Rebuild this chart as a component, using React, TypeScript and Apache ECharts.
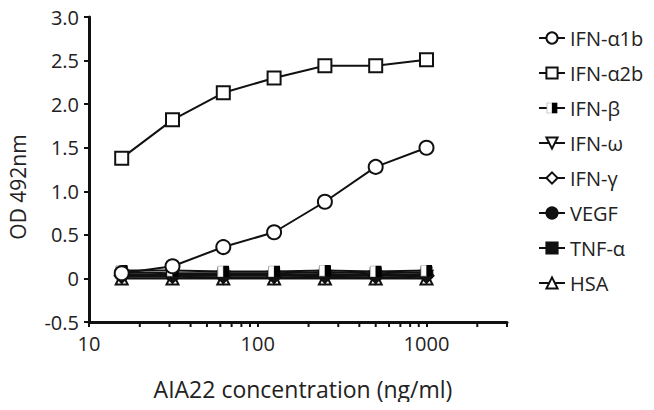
import React, { useEffect, useRef } from "react";
import * as echarts from "echarts";

const concentrations = [15.625, 31.25, 62.5, 125, 250, 500, 1000];
const ifnA1b = [0.06, 0.14, 0.36, 0.53, 0.88, 1.28, 1.5];
const ifnA2b = [1.38, 1.82, 2.13, 2.3, 2.44, 2.44, 2.51];
const ifnB = [0.09, 0.09, 0.08, 0.08, 0.09, 0.08, 0.09];
const ifnW = [0.02, 0.02, 0.01, 0.01, 0.02, 0.01, 0.02];
const ifnG = [0.03, 0.03, 0.03, 0.03, 0.03, 0.03, 0.03];
const vegf = [0.05, 0.04, 0.04, 0.04, 0.05, 0.04, 0.05];
const tnfA = [0.07, 0.06, 0.06, 0.06, 0.07, 0.06, 0.07];
const hsa = [0.0, 0.0, 0.0, 0.0, 0.0, 0.0, 0.0];
const minorTicks = [20, 30, 40, 50, 60, 70, 80, 90, 200, 300, 400, 500, 600, 700, 800, 900, 2000];
const xLabels = [10, 100, 1000];

const halfSquareSvg =
  "<svg xmlns='http://www.w3.org/2000/svg' width='24' height='24'><rect x='1' y='1' width='11' height='22' fill='white' stroke='#b0b0b0' stroke-width='2'/><rect x='12' y='0' width='12' height='24' fill='black'/></svg>";
const halfSquare = "image://data:image/svg+xml;charset=utf-8," + encodeURIComponent(halfSquareSvg);

const FONT = "Open Sans";

export default function App() {
  const ref = useRef<HTMLDivElement>(null);
  useEffect(() => {
    if (!ref.current) return;
    const chart = echarts.init(ref.current, undefined, { renderer: "svg" });
    const mk = (name: string, vals: number[], symbol: string, size: number, filled: boolean, z: number) => ({
      name,
      type: "line",
      data: concentrations.map((c, i) => [c, vals[i]]),
      symbol,
      symbolSize: size,
      showAllSymbol: true,
      z,
      lineStyle: { color: "#111", width: 2 },
      itemStyle: { color: filled ? "#111" : "#fff", borderColor: "#111", borderWidth: 2 },
    });
    chart.setOption({
      animation: false,
      backgroundColor: "#fff",
      grid: { left: 89, right: 147, top: 17, bottom: 88 },
      graphic: [
        {
          type: "rect",
          shape: { x: 1, y: 1, width: 651, height: 407 },
          style: { fill: "none", stroke: "#a0a0a0", lineWidth: 2 },
          silent: true,
        },
        {
          type: "text",
          x: 18,
          y: 187,
          rotation: Math.PI / 2,
          style: {
            text: "OD 492nm",
            font: `21px '${FONT}'`,
            fill: "#222",
            textAlign: "center",
            textVerticalAlign: "middle",
          },
        },
      ],
      legend: {
        orient: "vertical",
        left: 533,
        top: 22,
        itemWidth: 26,
        itemHeight: 14,
        itemGap: 13,
        textStyle: { fontFamily: FONT, fontSize: 20, lineHeight: 22, color: "#222" },
        data: ["IFN-α1b", "IFN-α2b", "IFN-β", "IFN-ω", "IFN-γ", "VEGF", "TNF-α", "HSA"],
      },
      xAxis: {
        type: "log",
        logBase: 10,
        min: 10,
        max: 3000,
        name: "AIA22 concentration (ng/ml)",
        nameLocation: "middle",
        nameGap: 55,
        nameTextStyle: { fontFamily: FONT, fontSize: 23, color: "#222", padding: [0, 0, 0, 10] },
        axisLine: { show: true, onZero: false, lineStyle: { color: "#111", width: 3 } },
        axisTick: { show: true, length: 5, lineStyle: { color: "#111", width: 2 } },
        axisLabel: {
          fontFamily: FONT,
          fontSize: 20,
          color: "#222",
          margin: 11,
          formatter: (v: number) => (xLabels.some((l) => Math.abs(l - v) < 1e-6) ? String(Math.round(v)) : ""),
        },
        splitLine: { show: false },
        minorTick: { show: false },
      },
      yAxis: {
        type: "value",
        min: -0.5,
        max: 3.0,
        interval: 0.5,
        axisLine: { show: true, onZero: false, lineStyle: { color: "#111", width: 3 } },
        axisTick: { show: true, length: 5, lineStyle: { color: "#111", width: 2 } },
        axisLabel: {
          fontFamily: FONT,
          fontSize: 20,
          color: "#222",
          margin: 10,
          formatter: (v: number) => (Math.abs(v) < 1e-9 ? "0" : v.toFixed(1)),
        },
        splitLine: { show: false },
      },
      series: [
        mk("IFN-α1b", ifnA1b, "circle", 14, false, 10),
        mk("IFN-α2b", ifnA2b, "rect", 13, false, 10),
        mk("IFN-β", ifnB, halfSquare, 12, true, 9),
        mk("IFN-ω", ifnW, "path://M0,0 L10,0 L5,9 Z", 12, false, 4),
        mk("IFN-γ", ifnG, "diamond", 14, false, 5),
        mk("VEGF", vegf, "circle", 12, true, 6),
        mk("TNF-α", tnfA, "rect", 10, true, 7),
        mk("HSA", hsa, "triangle", 12, false, 3),
        {
          type: "custom",
          silent: true,
          data: minorTicks.map((t) => [t]),
          encode: { x: 0 },
          renderItem: (params: any, api: any) => {
            const p = api.coord([api.value(0), -0.5]);
            return {
              type: "line",
              shape: { x1: p[0], y1: p[1], x2: p[0], y2: p[1] + 5 },
              style: { stroke: "#111", lineWidth: 2 },
            };
          },
          clip: false,
          z: 20,
        },
      ],
    });
    return () => chart.dispose();
  }, []);
  return <div ref={ref} style={{ width: 654, height: 410, margin: -8 }} />;
}
